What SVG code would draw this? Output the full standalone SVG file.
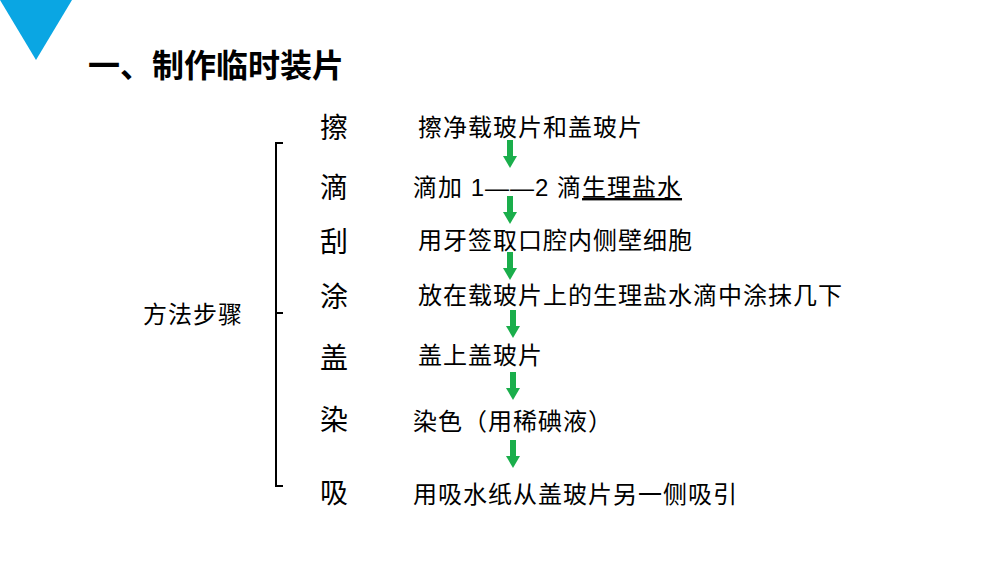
<svg xmlns="http://www.w3.org/2000/svg" width="1000" height="563" viewBox="0 0 1000 563">
<style>
text{font-family:"Liberation Sans","Noto Sans CJK SC",sans-serif;fill:#000}
.s{font-size:28px}
.t{font-size:24px;letter-spacing:1px}
.a{fill:#1aae4b}
</style>
<defs><g id="arr"><rect x="-3" y="0" width="6" height="17"/><polygon points="-7,16 7,16 0,28"/></g></defs>
<rect width="1000" height="563" fill="#fff"/>
<polygon points="0,0 72,0 36,60" fill="#0aa6e3"/>
<text x="88" y="77" style="font-size:32px;font-weight:bold">一、制作临时装片</text>
<g id="bracket" fill="none" stroke="#000" stroke-width="2"><path d="M283,143 H276 V486 H283 M276,313 H283"/></g>
<text x="143" y="323" class="t">方法步骤</text>
<g id="steps">
<text x="320" y="138" class="s">擦</text><text x="418" y="136" class="t">擦净载玻片和盖玻片</text>
<text x="320" y="198" class="s">滴</text><text x="413" y="196" class="t">滴加 1——2 滴<tspan text-decoration="underline">生理盐水</tspan></text>
<text x="320" y="252" class="s">刮</text><text x="418" y="249" class="t">用牙签取口腔内侧壁细胞</text>
<text x="320" y="307" class="s">涂</text><text x="418" y="304" class="t">放在载玻片上的生理盐水滴中涂抹几下</text>
<text x="320" y="368" class="s">盖</text><text x="418" y="364" class="t">盖上盖玻片</text>
<text x="320" y="430" class="s">染</text><text x="413" y="430" class="t">染色（用稀碘液）</text>
<text x="320" y="503" class="s">吸</text><text x="413" y="503" class="t">用吸水纸从盖玻片另一侧吸引</text>
</g>
<g id="connectors" class="a">
<use href="#arr" x="510" y="140"/><use href="#arr" x="510" y="196"/><use href="#arr" x="510" y="252"/>
<use href="#arr" x="513" y="310"/><use href="#arr" x="513" y="372"/><use href="#arr" x="513" y="440"/>
</g>
</svg>
